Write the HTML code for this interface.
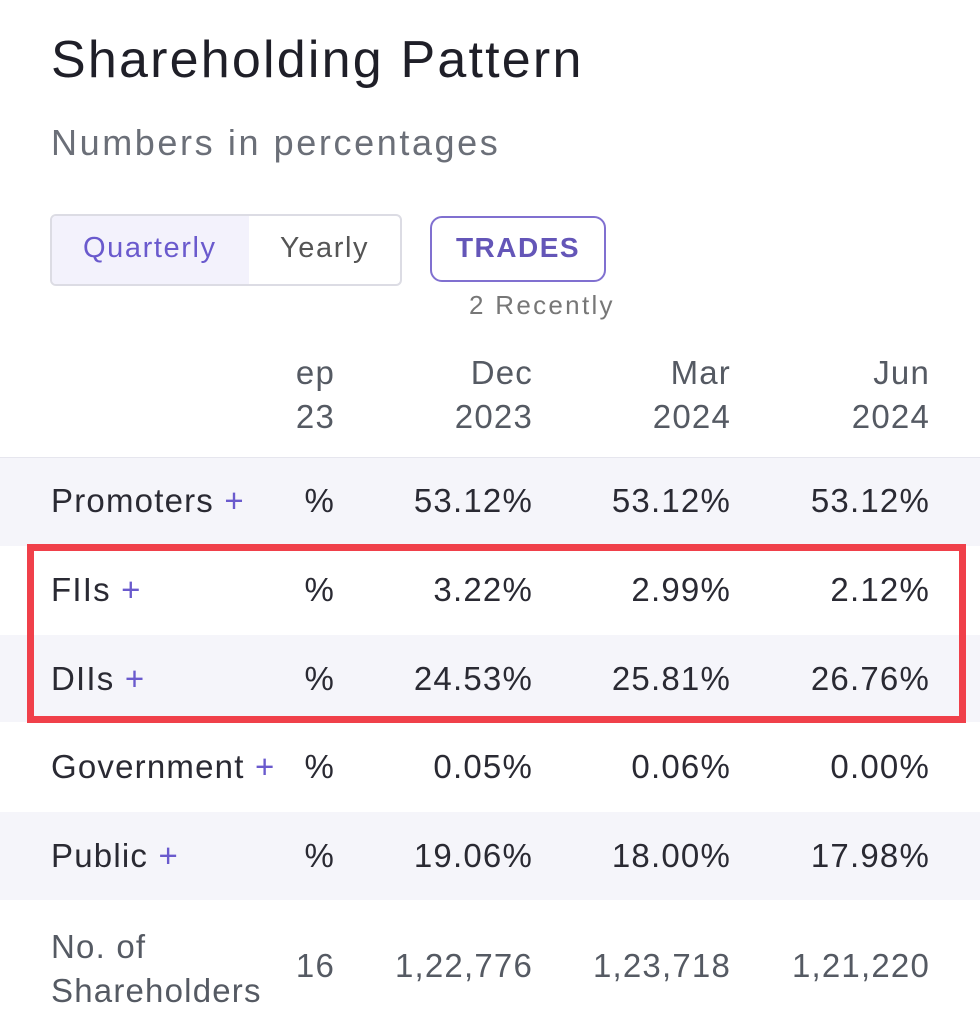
<!DOCTYPE html>
<html><head><meta charset="utf-8"><style>
body{margin:0;width:980px;height:1024px;background:#fff;position:relative;overflow:hidden;font-family:"Liberation Sans",sans-serif;color:#2a2a33}
.a{position:absolute;white-space:nowrap}
.r{position:absolute;text-align:right;white-space:nowrap}
.band{position:absolute;left:0;width:980px;background:#f5f5fa}
.p{color:#6a5acd}
.c{font-size:33px;line-height:36px;letter-spacing:1.2px}
.g{color:#555a63}
</style></head><body>
<div class="a" style="left:51px;top:30px;font-size:52px;letter-spacing:2.2px;color:#1f1f28">Shareholding Pattern</div>
<div class="a g" style="left:51px;top:122px;font-size:36px;letter-spacing:2.6px;color:#6b6f78">Numbers in percentages</div>
<div class="a" style="left:50px;top:214px;width:348px;height:68px;border:2px solid #dcdce4;border-radius:6px;overflow:hidden">
 <div class="a" style="left:0;top:0;width:197px;height:68px;background:#f3f2fc"></div>
 <div class="a" style="left:31px;top:16px;font-size:29px;letter-spacing:1.6px;color:#6a5acd">Quarterly</div>
 <div class="a" style="left:228px;top:16px;font-size:29px;letter-spacing:1.6px;color:#555">Yearly</div>
</div>
<div class="a" style="left:430px;top:216px;width:172px;height:62px;border:2px solid #8070d0;border-radius:12px"></div>
<div class="a" style="left:430px;top:232px;width:176px;text-align:center;font-size:28px;letter-spacing:1.5px;font-weight:bold;color:#6456b8">TRADES</div>
<div class="a" style="left:469px;top:290px;font-size:26px;letter-spacing:2.3px;color:#777">2 Recently</div>

<div class="r c g" style="right:645px;top:351px;width:42px;overflow:hidden;line-height:44px">ep<br>23</div>
<div class="r c g" style="right:447px;top:351px;line-height:44px">Dec<br>2023</div>
<div class="r c g" style="right:249px;top:351px;line-height:44px">Mar<br>2024</div>
<div class="r c g" style="right:50px;top:351px;line-height:44px">Jun<br>2024</div>

<div class="band" style="top:457px;height:88px;border-top:1px solid #e6e6ee"></div>
<div class="band" style="top:635px;height:87px"></div>
<div class="band" style="top:812px;height:88px"></div>

<div class="a c" style="left:51px;top:483px">Promoters <span class="p">+</span></div>
<div class="a c" style="left:51px;top:572px">FIIs <span class="p">+</span></div>
<div class="a c" style="left:51px;top:661px">DIIs <span class="p">+</span></div>
<div class="a c" style="left:51px;top:749px">Government <span class="p">+</span></div>
<div class="a c" style="left:51px;top:838px">Public <span class="p">+</span></div>
<div class="a c" style="left:51px;top:925px;color:#555a63;line-height:44px">No. of<br>Shareholders</div>

<div class="r c" style="right:645px;top:483px">%</div>
<div class="r c" style="right:645px;top:572px">%</div>
<div class="r c" style="right:645px;top:661px">%</div>
<div class="r c" style="right:645px;top:749px">%</div>
<div class="r c" style="right:645px;top:838px">%</div>
<div class="r c g" style="right:645px;top:948px">16</div>

<div class="r c" style="right:447px;top:483px">53.12%</div>
<div class="r c" style="right:249px;top:483px">53.12%</div>
<div class="r c" style="right:50px;top:483px">53.12%</div>
<div class="r c" style="right:447px;top:572px">3.22%</div>
<div class="r c" style="right:249px;top:572px">2.99%</div>
<div class="r c" style="right:50px;top:572px">2.12%</div>
<div class="r c" style="right:447px;top:661px">24.53%</div>
<div class="r c" style="right:249px;top:661px">25.81%</div>
<div class="r c" style="right:50px;top:661px">26.76%</div>
<div class="r c" style="right:447px;top:749px">0.05%</div>
<div class="r c" style="right:249px;top:749px">0.06%</div>
<div class="r c" style="right:50px;top:749px">0.00%</div>
<div class="r c" style="right:447px;top:838px">19.06%</div>
<div class="r c" style="right:249px;top:838px">18.00%</div>
<div class="r c" style="right:50px;top:838px">17.98%</div>
<div class="r c g" style="right:447px;top:948px">1,22,776</div>
<div class="r c g" style="right:249px;top:948px">1,23,718</div>
<div class="r c g" style="right:50px;top:948px">1,21,220</div>

<div class="a" style="left:27px;top:544px;width:925px;height:165px;border:7px solid #f0404a"></div>
</body></html>
